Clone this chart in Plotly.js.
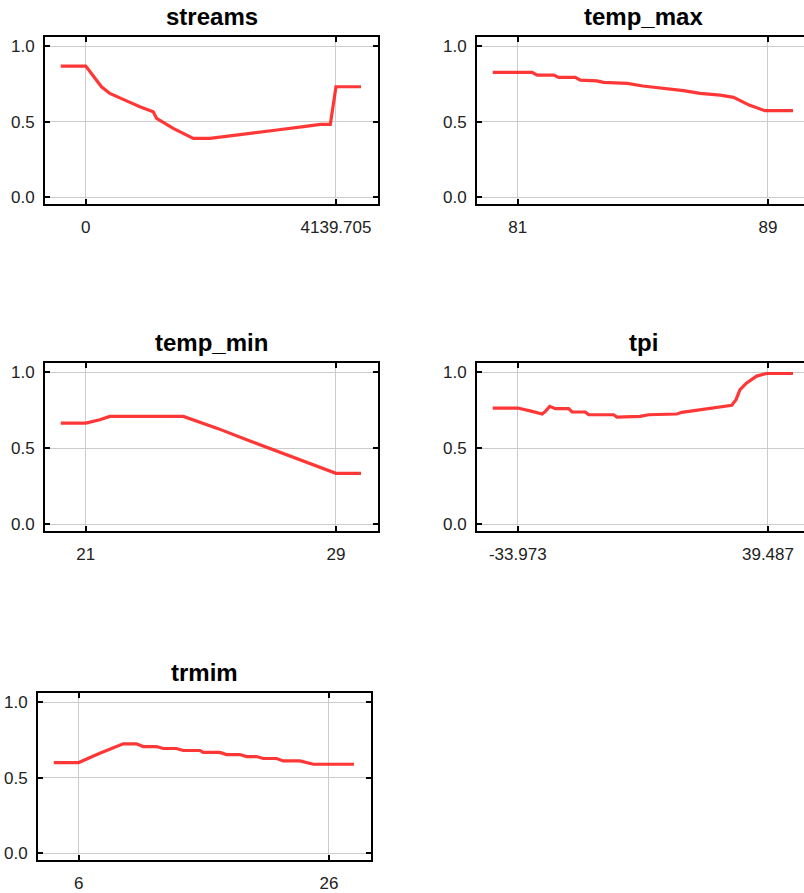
<!DOCTYPE html>
<html>
<head>
<meta charset="utf-8">
<script src="https://cdn.plot.ly/plotly-3.0.1.min.js"></script>
<style>
  html, body { margin: 0; padding: 0; overflow: hidden; background: #fff; }
  #chart { width: 815px; height: 893px; }
</style>
</head>
<body>
<div id="chart"></div>
<script>
// ---- data ----
const panelTitles = ["streams", "temp_max", "temp_min", "tpi", "trmim"];

const streamsX = [-414, 0, 260, 398, 675, 895, 1116, 1172, 1447, 1779, 2056, 2333, 2719, 3162, 3604, 3880, 4046, 4139.705, 4553.7];
const streamsY = [0.868, 0.868, 0.731, 0.687, 0.638, 0.599, 0.566, 0.522, 0.456, 0.39, 0.39, 0.405, 0.423, 0.445, 0.467, 0.482, 0.482, 0.731, 0.731];
const streamsTicks = [0, 4139.705];
const streamsTickText = ["0", "4139.705"];

const tempMaxX = [80.2, 81, 81.46, 81.62, 82.15, 82.31, 82.84, 83.0, 83.53, 83.74, 84.5, 85.0, 85.66, 86.3, 86.83, 87.47, 87.9, 88.4, 88.9, 89, 89.8];
const tempMaxY = [0.826, 0.826, 0.826, 0.808, 0.808, 0.793, 0.793, 0.775, 0.77, 0.76, 0.753, 0.736, 0.722, 0.705, 0.687, 0.676, 0.661, 0.61, 0.573, 0.573, 0.573];
const tempMaxTicks = [81, 89];
const tempMaxTickText = ["81", "89"];

const tempMinX = [20.2, 21, 21.45, 21.77, 24.12, 25.19, 26.25, 27.32, 28.39, 28.93, 29, 29.8];
const tempMinY = [0.665, 0.665, 0.687, 0.709, 0.709, 0.632, 0.548, 0.463, 0.379, 0.335, 0.335, 0.335];
const tempMinTicks = [21, 29];
const tempMinTickText = ["21", "29"];

const tpiX = [-41.32, -33.973, -29.75, -26.82, -25.86, -24.6, -22.93, -19.03, -18.03, -14.14, -13.17, -5.84, -4.85, 1.98, 4.41, 12.73, 14.2, 18.6, 23.46, 28.85, 30.11, 31.28, 33.24, 36.17, 39.1, 39.487, 46.83];
const tpiY = [0.764, 0.764, 0.742, 0.725, 0.742, 0.775, 0.76, 0.76, 0.738, 0.738, 0.72, 0.72, 0.705, 0.709, 0.72, 0.725, 0.736, 0.749, 0.764, 0.782, 0.819, 0.885, 0.929, 0.974, 0.991, 0.991, 0.991];
const tpiTicks = [-33.973, 39.487];
const tpiTickText = ["-33.973", "39.487"];

const trmimX = [4, 6, 7.68, 9.55, 10.61, 11.15, 12.21, 12.75, 13.81, 14.35, 15.68, 15.95, 17.28, 17.81, 18.88, 19.41, 20.21, 20.75, 21.81, 22.35, 23.68, 24.75, 26, 28];
const trmimY = [0.6, 0.6, 0.662, 0.724, 0.724, 0.706, 0.706, 0.693, 0.693, 0.68, 0.68, 0.667, 0.667, 0.653, 0.653, 0.64, 0.64, 0.627, 0.627, 0.611, 0.611, 0.589, 0.589, 0.589];
const trmimTicks = [6, 26];
const trmimTickText = ["6", "26"];

const yTicks = [0, 0.5, 1.0];
const yTickText = ["0.0", "0.5", "1.0"];

// ---- layout geometry (pixels) ----
const W = 815, H = 893;
const panels = [
  {x: streamsX, y: streamsY, tv: streamsTicks, tt: streamsTickText, box: [45, 378, 37, 204]},
  {x: tempMaxX, y: tempMaxY, tv: tempMaxTicks, tt: tempMaxTickText, box: [477, 810, 37, 204]},
  {x: tempMinX, y: tempMinY, tv: tempMinTicks, tt: tempMinTickText, box: [45, 378, 363, 531]},
  {x: tpiX, y: tpiY, tv: tpiTicks, tt: tpiTickText, box: [477, 810, 363, 531]},
  {x: trmimX, y: trmimY, tv: trmimTicks, tt: trmimTickText, box: [38, 371, 693, 860]}
];

const tickFont = {family: "Liberation Sans, Arial, sans-serif", size: 17, color: "#222"};
const data = [];
const layout = {
  width: W, height: H,
  margin: {l: 0, r: 0, t: 0, b: 0},
  paper_bgcolor: "#fff", plot_bgcolor: "#fff",
  showlegend: false,
  annotations: []
};

panels.forEach((p, i) => {
  const n = i === 0 ? "" : String(i + 1);
  data.push({
    x: p.x, y: p.y, type: "scatter", mode: "lines",
    xaxis: "x" + n, yaxis: "y" + n,
    line: {color: "rgba(255,20,20,0.85)", width: 3.2},
    hoverinfo: "skip"
  });
  const lo = p.tv[0], hi = p.tv[1], span = hi - lo;
  const [x0, x1, y0, y1] = p.box;
  layout["xaxis" + n] = {
    domain: [x0 / W, x1 / W],
    anchor: "y" + n,
    range: [lo - 0.163 * span, hi + 0.168 * span],
    tickmode: "array", tickvals: p.tv, ticktext: p.tt,
    ticks: "inside", ticklen: 5, tickwidth: 2, tickcolor: "#000",
    showline: true, linecolor: "#000", linewidth: 2, mirror: "allticks",
    showgrid: true, gridcolor: "#cccccc", gridwidth: 1,
    zeroline: false, tickfont: tickFont, ticklabelstandoff: 7,
    fixedrange: true
  };
  layout["yaxis" + n] = {
    domain: [1 - y1 / H, 1 - y0 / H],
    anchor: "x" + n,
    range: [-0.044, 1.06],
    tickmode: "array", tickvals: yTicks, ticktext: yTickText,
    ticks: "inside", ticklen: 5, tickwidth: 2, tickcolor: "#000",
    showline: true, linecolor: "#000", linewidth: 2, mirror: "allticks",
    showgrid: true, gridcolor: "#cccccc", gridwidth: 1,
    zeroline: false, tickfont: tickFont, ticklabelstandoff: 5,
    fixedrange: true
  };
  layout.annotations.push({
    text: "<b>" + panelTitles[i] + "</b>",
    xref: "paper", yref: "paper",
    x: ((x0 + x1) / 2) / W, y: 1 - (y0 - 5) / H,
    xanchor: "center", yanchor: "bottom",
    showarrow: false,
    font: {family: "Liberation Sans, Arial, sans-serif", size: 24, color: "#000"}
  });
});

Plotly.newPlot("chart", data, layout, {displayModeBar: false, staticPlot: true});
</script>
</body>
</html>
